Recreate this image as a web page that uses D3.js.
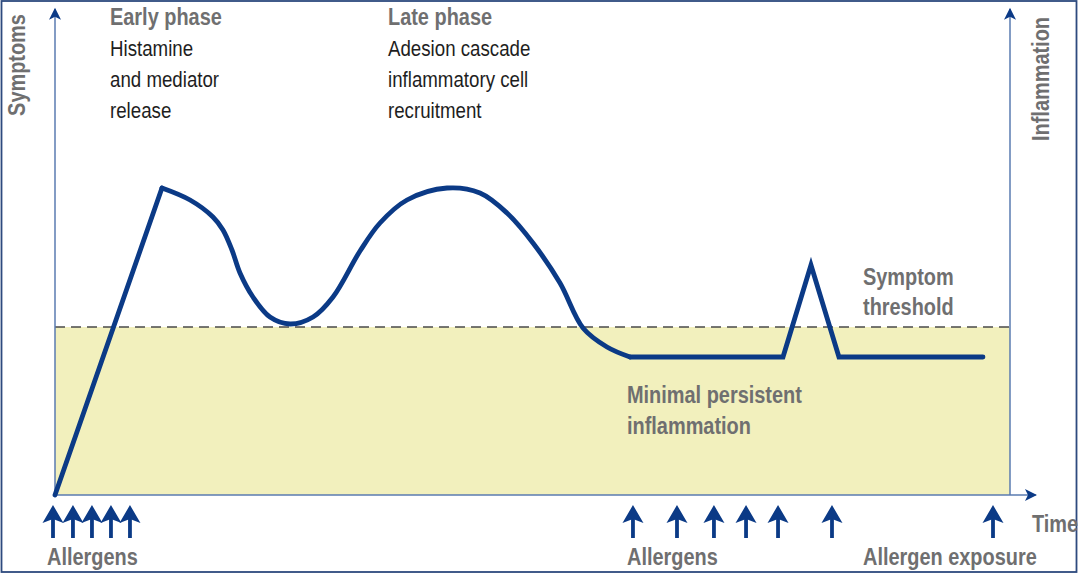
<!DOCTYPE html>
<html>
<head>
<meta charset="utf-8">
<script src="https://cdn.jsdelivr.net/npm/d3@7/dist/d3.min.js"></script>
<style>
  html, body { margin: 0; padding: 0; background: #fff; }
  svg { display: block; }
  text { font-family: "Liberation Sans Narrow", "Arial Narrow", "Liberation Sans", sans-serif; }
</style>
</head>
<body>
<div id="chart"></div>
<script>
// time units 0..100, symptom units 0..122
var riseX = [0, 11.2];
var riseY = [0, 76.75];

var waveX = [11.2, 14.14, 16.54, 17.59, 18.53, 19.37, 20.73, 22.51, 24.61, 27.02, 29.11,
             31.94, 34.03, 36.86, 41.05, 44.5, 47.33, 50.05, 52.88, 55.29, 57.8, 60.21];
var waveY = [76.75, 73.75, 69.5, 66.25, 61.25, 55.5, 49.5, 44.5, 42.75, 44.5, 49.5,
             61.0, 68.0, 73.75, 76.75, 75.5, 70.5, 63.0, 53.0, 41.75, 37.0, 34.5];

var tailX = [60.21, 76.23, 79.16, 82.09, 97.17];
var tailY = [34.5, 34.5, 57.5, 34.5, 34.5];

var threshold = 42;

var allergensEarly = [-0.21, 1.88, 3.87, 5.86, 7.85];
var allergensLate = [60.52, 65.13, 69.0, 72.36, 75.71, 81.36, 98.22];

var width = 1080, height = 575;
var navy = '#0b3a86', axisBlue = '#5a7bb0', grey = '#6f6f70';

var x = d3.scaleLinear().domain([0, 100]).range([55, 1010]);
var y = d3.scaleLinear().domain([0, 122]).range([495, 7]);

var svg = d3.select('#chart').append('svg')
    .attr('width', width)
    .attr('height', height);

var defs = svg.append('defs');
defs.append('marker')
    .attr('id', 'axhead')
    .attr('viewBox', '0 0 10 10')
    .attr('refX', 9).attr('refY', 5)
    .attr('markerUnits', 'userSpaceOnUse')
    .attr('markerWidth', 13).attr('markerHeight', 12)
    .attr('orient', 'auto')
  .append('path')
    .attr('d', 'M0,0L10,5L0,10L2.5,5Z')
    .attr('fill', navy);

// frame
svg.append('rect')
    .attr('x', 1.5).attr('y', 1).attr('width', 1075).attr('height', 571)
    .attr('fill', 'none')
    .attr('stroke', '#2d4a7e')
    .attr('stroke-width', 1.8);

// minimal persistent inflammation band
svg.append('rect')
    .attr('x', x(0)).attr('y', y(threshold))
    .attr('width', x(100) - x(0)).attr('height', y(0) - y(threshold))
    .attr('fill', '#f2f0bd');

// symptom threshold
svg.append('line')
    .attr('x1', x(0)).attr('x2', x(100))
    .attr('y1', y(threshold)).attr('y2', y(threshold))
    .attr('stroke', '#4a4a4a')
    .attr('stroke-width', 1.4)
    .attr('stroke-dasharray', '10,6');

// axes
var leftAxis = svg.append('g')
    .attr('transform', 'translate(' + x(0) + ',0)')
    .call(d3.axisLeft(y).tickValues([]).tickSizeOuter(0));
var rightAxis = svg.append('g')
    .attr('transform', 'translate(' + x(100) + ',0)')
    .call(d3.axisRight(y).tickValues([]).tickSizeOuter(0));
[leftAxis, rightAxis].forEach(function(g) {
  g.select('.domain')
      .attr('stroke', axisBlue)
      .attr('stroke-width', 1.5)
      .attr('d', 'M0,' + y(0) + 'V' + y(121.5))
      .attr('marker-end', 'url(#axhead)');
});
svg.append('line')
    .attr('x1', x(0)).attr('x2', x(102.7))
    .attr('y1', y(0)).attr('y2', y(0))
    .attr('stroke', axisBlue)
    .attr('stroke-width', 1.5)
    .attr('marker-end', 'url(#axhead)');

// symptom curve
var line = d3.line()
    .x(function(d) { return x(d[0]); })
    .y(function(d) { return y(d[1]); });
var rise = d3.zip(riseX, riseY);
var wave = d3.zip(waveX, waveY);
var tail = d3.zip(tailX, tailY);

var curve = svg.append('g')
    .attr('fill', 'none')
    .attr('stroke', navy)
    .attr('stroke-width', 4.8)
    .attr('stroke-linejoin', 'miter')
    .attr('stroke-linecap', 'round');
curve.append('path').attr('d', line.curve(d3.curveLinear)(rise));
curve.append('path').attr('d', line.curve(d3.curveCatmullRom.alpha(0.5))(wave));
curve.append('path').attr('d', line.curve(d3.curveLinear)(tail));

// allergen arrows
var arrows = svg.append('g').attr('fill', navy).attr('stroke', navy);
arrows.selectAll('g.arr')
    .data(allergensEarly.concat(allergensLate))
  .enter().append('g')
    .attr('class', 'arr')
    .attr('transform', function(d) { return 'translate(' + x(d) + ',0)'; })
    .each(function() {
      var g = d3.select(this);
      g.append('line')
          .attr('y1', 538).attr('y2', 515)
          .attr('stroke-width', 3.8);
      g.append('path')
          .attr('d', 'M0,505L10.5,523L0,519L-10.5,523Z')
          .attr('stroke', 'none');
    });

// texts (condensed look by squeezing horizontally)
function block(xp, yp, lines, bold, lh) {
  var sx = bold ? 0.83 : 0.85;
  var t = svg.append('text')
      .attr('transform', 'translate(' + xp + ',' + yp + ') scale(' + sx + ',1)')
      .attr('fill', bold ? grey : '#1e1e1e')
      .attr('font-size', bold ? 24 : 22)
      .attr('font-weight', bold ? 'bold' : 'normal');
  lines.forEach(function(s, i) {
    t.append('tspan').attr('x', 0).attr('y', i * lh).text(s);
  });
  return t;
}

block(110, 25, ['Early phase'], true, 31);
block(110, 56, ['Histamine', 'and mediator', 'release'], false, 31);
block(388, 25, ['Late phase'], true, 31);
block(388, 56, ['Adesion cascade', 'inflammatory cell', 'recruitment'], false, 31);
block(863, 285, ['Symptom', 'threshold'], true, 30);
block(627, 403, ['Minimal persistent', 'inflammation'], true, 31);
block(47, 565, ['Allergens'], true, 0);
block(627, 565, ['Allergens'], true, 0);
block(863, 565, ['Allergen exposure'], true, 0);
block(1032, 532, ['Time'], true, 0);

svg.append('text')
    .attr('transform', 'translate(25,65) rotate(-90) scale(0.83,1)')
    .attr('text-anchor', 'middle')
    .attr('fill', grey).attr('font-size', 24).attr('font-weight', 'bold')
    .text('Symptoms');
svg.append('text')
    .attr('transform', 'translate(1049,79) rotate(-90) scale(0.83,1)')
    .attr('text-anchor', 'middle')
    .attr('fill', grey).attr('font-size', 24).attr('font-weight', 'bold')
    .text('Inflammation');
</script>
</body>
</html>
